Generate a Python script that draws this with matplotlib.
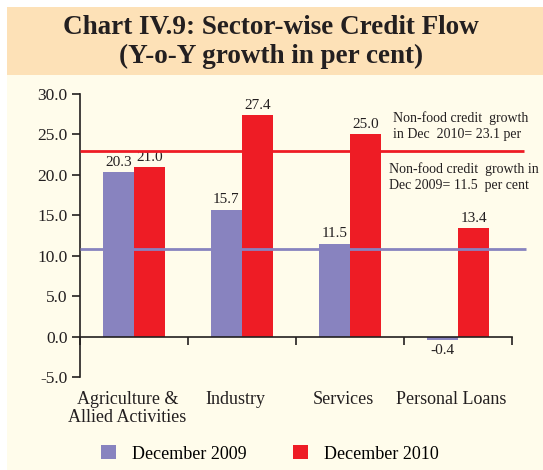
import numpy as np
from matplotlib import pyplot as plt
from matplotlib.patches import Rectangle, Patch

# 数据
categories = ['Agriculture &\nAllied Activities', 'Industry', 'Services', 'Personal Loans']
dec_2009 = [20.3, 15.7, 11.5, -0.4]
dec_2010 = [21.0, 27.4, 25.0, 13.4]
series_names = ['December 2009', 'December 2010']
nonfood_2009 = 10.8   # 图中线的位置
nonfood_2010 = 23.0
note_2010 = 'Non-food credit  growth\nin Dec  2010= 23.1 per'
note_2009 = 'Non-food credit  growth in\nDec 2009= 11.5  per cent'
title = 'Chart IV.9: Sector-wise Credit Flow\n(Y-o-Y growth in per cent)'
yticks = [-5, 0, 5, 10, 15, 20, 25, 30]

purple = '#8883BF'
red = '#EE1C25'
cream = '#FFFCEB'
peach = '#FDE1B7'

plt.rcParams['font.family'] = ['Liberation Serif', 'DejaVu Serif']

fig = plt.figure(figsize=(5.43, 4.70), dpi=100, facecolor='white')

# 背景
fig.patches.append(Rectangle((7 / 543, 0), 1, 463 / 470, transform=fig.transFigure,
                             facecolor=cream, edgecolor='none', zorder=-2))
fig.patches.append(Rectangle((7 / 543, 395 / 470), 1, 68 / 470, transform=fig.transFigure,
                             facecolor=peach, edgecolor='none', zorder=-1))
fig.text(271 / 543, 1 - 42 / 470, title, ha='center', va='center', fontsize=19.5,
         fontweight='bold', color='#231F20', linespacing=1.25)

ax = fig.add_axes([80 / 543, 93 / 470, 432 / 543, 283 / 470])
ax.set_facecolor('none')

x = np.arange(len(categories))
w = 0.29
b1 = ax.bar(x - w / 2, dec_2009, w, color=purple, zorder=2)
b2 = ax.bar(x + w / 2, dec_2010, w, color=red, zorder=2)

for rect, v in zip(list(b1) + list(b2), dec_2009 + dec_2010):
    cx = rect.get_x() + rect.get_width() / 2
    if v >= 0:
        ax.text(cx, v + 0.4, f'{v:.1f}', ha='center', va='bottom', fontsize=11, color='#231F20')
    else:
        ax.text(cx, v - 0.5, f'{v:.1f}', ha='center', va='top', fontsize=11, color='#231F20')

# 非食品信贷增长线
ax.hlines(nonfood_2010, -0.5, 3.61, color=red, lw=2, zorder=3, clip_on=False)
ax.hlines(nonfood_2009, -0.5, 3.63, color=purple, lw=2, zorder=3, clip_on=False)
ax.text(2.40, 26.0, note_2010, fontsize=10, va='center', ha='left', color='#231F20', linespacing=1.3)
ax.text(2.36, 19.7, note_2009, fontsize=10, va='center', ha='left', color='#231F20', linespacing=1.3)

ax.set_xlim(-0.5, 3.5)
ax.set_ylim(-5, 30)
ax.set_yticks(yticks)
ax.set_yticklabels([f'{t:.1f}' for t in yticks], fontsize=12.5, color='#231F20')
ax.tick_params(axis='y', length=6, width=1.2, color='#231F20', pad=3)

ax.spines['top'].set_visible(False)
ax.spines['right'].set_visible(False)
ax.spines['left'].set_color('#231F20')
ax.spines['left'].set_linewidth(1.2)
ax.spines['bottom'].set_position(('data', 0))
ax.spines['bottom'].set_color('#231F20')
ax.spines['bottom'].set_linewidth(1.2)
ax.set_xticks(np.arange(-0.5, 4, 1))
ax.set_xticklabels([])
ax.tick_params(axis='x', length=6, width=1.2, color='#231F20')

for i, c in enumerate(categories):
    ax.text(i - 0.06, -0.05, c, transform=ax.get_xaxis_transform(), ha='center', va='top',
            fontsize=13, color='#231F20', linespacing=1.1)

handles = [Patch(facecolor=purple), Patch(facecolor=red)]
fig.legend(handles, series_names, loc='center', bbox_to_anchor=(270 / 543, 16 / 470), ncol=2,
           frameon=False, fontsize=13, handlelength=0.8, handleheight=0.8,
           handletextpad=0.9, columnspacing=2.6)

fig.savefig('out.png', dpi=100, facecolor=fig.get_facecolor())
